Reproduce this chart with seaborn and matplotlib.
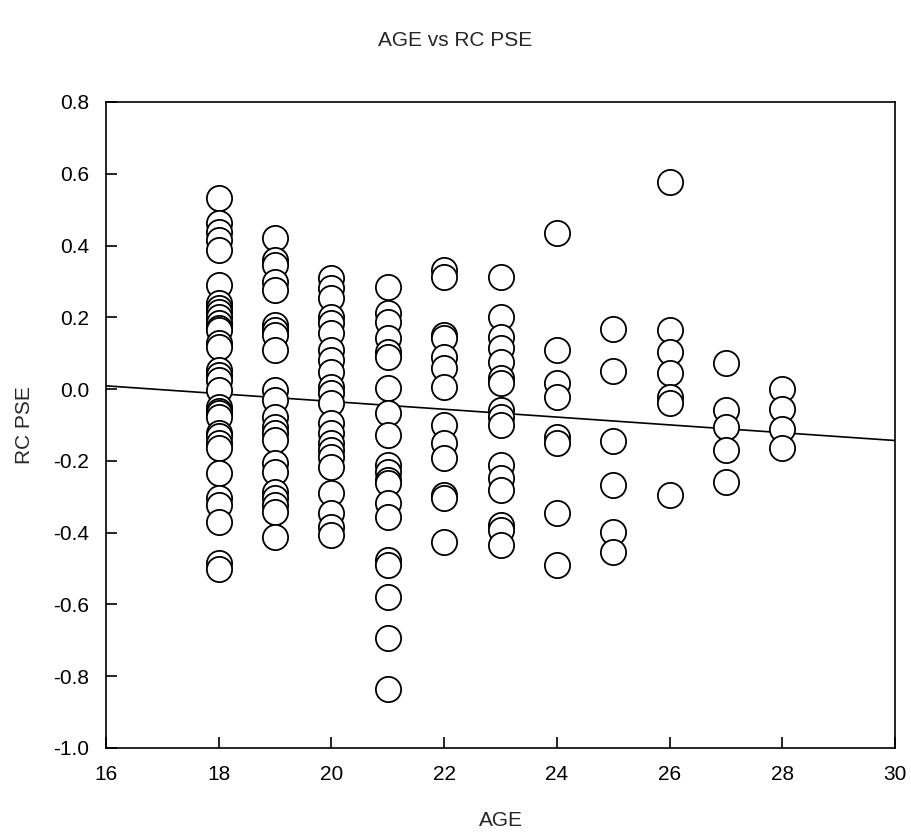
import numpy as np
import pandas as pd
import matplotlib
matplotlib.use("Agg")
import matplotlib.pyplot as plt
import seaborn as sns

# RC PSE values read per AGE group
pse_18 = [0.532, 0.462, 0.439, 0.415, 0.388, 0.290, 0.239, 0.225, 0.215, 0.202, 0.184, 0.170,
          0.165, 0.128, 0.118, 0.053, 0.040, 0.025, -0.003, -0.049, -0.060, -0.067, -0.077,
          -0.123, -0.130, -0.150, -0.165, -0.235, -0.304, -0.323, -0.369, -0.485, -0.500]
pse_19 = [0.420, 0.360, 0.346, 0.299, 0.276, 0.179, 0.165, 0.150, 0.109, -0.003, -0.030,
          -0.077, -0.105, -0.123, -0.142, -0.207, -0.230, -0.286, -0.304, -0.323, -0.342, -0.411]
pse_20 = [0.309, 0.281, 0.253, 0.202, 0.183, 0.155, 0.109, 0.081, 0.049, 0.007, -0.012,
          -0.040, -0.095, -0.123, -0.151, -0.170, -0.188, -0.216, -0.290, -0.346, -0.383, -0.406]
pse_21 = [0.285, 0.211, 0.188, 0.141, 0.104, 0.090, 0.002, -0.067, -0.128, -0.211, -0.230,
          -0.253, -0.262, -0.318, -0.356, -0.476, -0.490, -0.578, -0.694, -0.836]
pse_22 = [0.332, 0.313, 0.151, 0.141, 0.090, 0.058, 0.007, -0.100, -0.151, -0.193, -0.295,
          -0.304, -0.425]
pse_23 = [0.313, 0.202, 0.146, 0.114, 0.076, 0.030, 0.016, -0.058, -0.077, -0.100, -0.211,
          -0.249, -0.281, -0.379, -0.393, -0.434]
pse_24 = [0.434, 0.109, 0.016, -0.021, -0.133, -0.151, -0.346, -0.490]
pse_25 = [0.167, 0.051, -0.144, -0.267, -0.397, -0.453]
pse_26 = [0.578, 0.165, 0.104, 0.044, -0.021, -0.040, -0.295]
pse_27 = [0.072, -0.058, -0.105, -0.170, -0.258]
pse_28 = [-0.001, -0.056, -0.112, -0.165]

ages = [18, 19, 20, 21, 22, 23, 24, 25, 26, 27, 28]
groups = [pse_18, pse_19, pse_20, pse_21, pse_22, pse_23, pse_24, pse_25, pse_26, pse_27, pse_28]

x_ticks = [16, 18, 20, 22, 24, 26, 28, 30]
y_ticks = [-1.0, -0.8, -0.6, -0.4, -0.2, 0.0, 0.2, 0.4, 0.6, 0.8]

rows = []
for a, g in zip(ages, groups):
    for v in g:
        rows.append({"AGE": a, "RC PSE": v})
df = pd.DataFrame(rows)

sns.set_style("ticks")
plt.rcParams["font.family"] = ["Liberation Sans", "DejaVu Sans"]

fig = plt.figure(figsize=(9.11, 8.36), dpi=100)
ax = fig.add_axes([0.1164, 0.1053, 0.866, 0.7727])
ax.set_xlim(16, 30)
ax.set_ylim(-1.0, 0.8)

sns.regplot(data=df, x="AGE", y="RC PSE", scatter=False, ci=None, truncate=False,
            line_kws={"color": "black", "linewidth": 1.2}, ax=ax)
sns.scatterplot(data=df, x="AGE", y="RC PSE", s=330, facecolor="white",
                edgecolor="black", linewidth=1.3, ax=ax, zorder=3)

ax.set_xlim(16, 30)
ax.set_ylim(-1.0, 0.8)
ax.set_xticks(x_ticks)
ax.set_xticklabels([f"{t:d}" for t in x_ticks])
ax.set_yticks(y_ticks)
ax.set_yticklabels([f"{t:.1f}" for t in y_ticks])
ax.tick_params(direction="in", length=8, width=1.2, labelsize=15, pad=12,
               top=False, right=False, colors="black")
for sp in ax.spines.values():
    sp.set_visible(True)
    sp.set_linewidth(1.2)
    sp.set_color("black")

ax.set_xlabel("AGE", fontsize=15, labelpad=20)
ax.set_ylabel("RC PSE", fontsize=15, labelpad=14)
fig.text(0.5, 0.952, "AGE vs RC PSE", ha="center", va="center", fontsize=15)

fig.savefig("out.png", dpi=100)
